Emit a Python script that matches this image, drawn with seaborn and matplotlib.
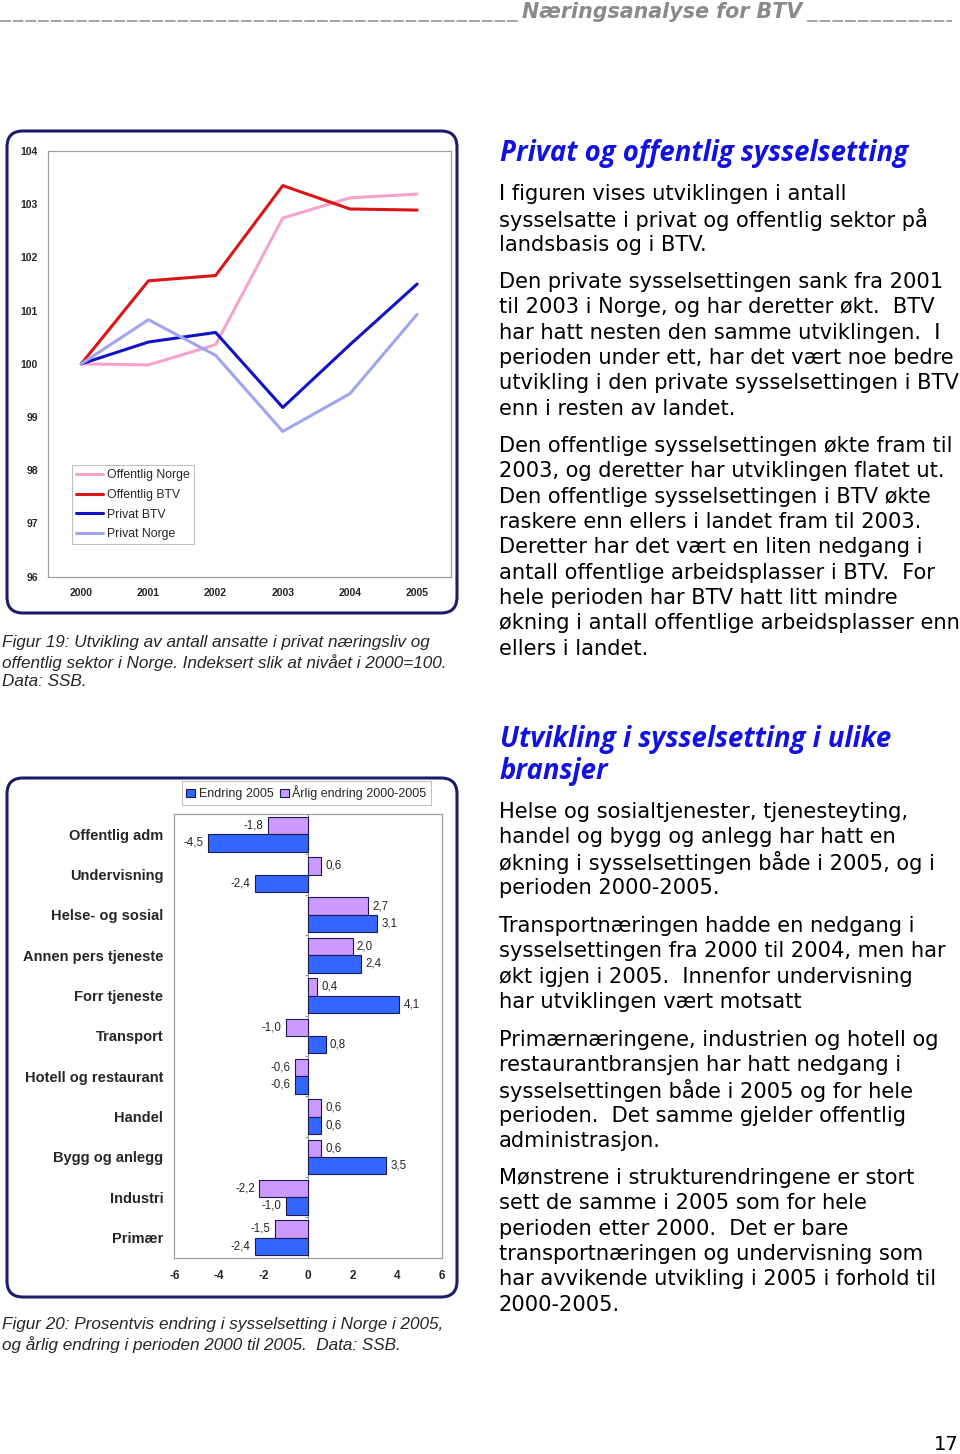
import numpy as np
import pandas as pd
import matplotlib
matplotlib.use("Agg")
import matplotlib.pyplot as plt
import seaborn as sns
from matplotlib.patches import FancyBboxPatch, Patch
from matplotlib.lines import Line2D

# ---------------- data ----------------
years = [2000, 2001, 2002, 2003, 2004, 2005]
line_series = ["Offentlig Norge", "Offentlig BTV", "Privat BTV", "Privat Norge"]
offentlig_norge = [100.0, 99.98, 100.36, 102.74, 103.12, 103.19]
offentlig_btv = [100.0, 101.56, 101.66, 103.35, 102.91, 102.89]
privat_btv = [100.0, 100.41, 100.59, 99.18, 100.36, 101.50]
privat_norge = [100.0, 100.83, 100.16, 98.73, 99.44, 100.93]
line_yticks = [96, 97, 98, 99, 100, 101, 102, 103, 104]

sectors = ["Offentlig adm", "Undervisning", "Helse- og sosial", "Annen pers tjeneste",
           "Forr tjeneste", "Transport", "Hotell og restaurant", "Handel",
           "Bygg og anlegg", "Industri", "Primær"]
bar_series = ["Endring 2005", "Årlig endring 2000-2005"]
endring_2005 = [-4.5, -2.4, 3.1, 2.4, 4.1, 0.8, -0.6, 0.6, 3.5, -1.0, -2.4]
arlig_endring = [-1.8, 0.6, 2.7, 2.0, 0.4, -1.0, -0.6, 0.6, 0.6, -2.2, -1.5]
bar_xticks = [-6, -4, -2, 0, 2, 4, 6]

header_title = "Næringsanalyse for BTV"
page_number = "17"
caption19 = ["Figur 19: Utvikling av antall ansatte i privat næringsliv og",
             "offentlig sektor i Norge. Indeksert slik at nivået i 2000=100.",
             "Data: SSB."]
caption20 = ["Figur 20: Prosentvis endring i sysselsetting i Norge i 2005,",
             "og årlig endring i perioden 2000 til 2005.  Data: SSB."]
heading1 = ["Privat og offentlig sysselsetting"]
heading2 = ["Utvikling i sysselsetting i ulike", "bransjer"]
para1 = ["I figuren vises utviklingen i antall",
         "sysselsatte i privat og offentlig sektor på",
         "landsbasis og i BTV."]
para2 = ["Den private sysselsettingen sank fra 2001",
         "til 2003 i Norge, og har deretter økt.  BTV",
         "har hatt nesten den samme utviklingen.  I",
         "perioden under ett, har det vært noe bedre",
         "utvikling i den private sysselsettingen i BTV",
         "enn i resten av landet."]
para3 = ["Den offentlige sysselsettingen økte fram til",
         "2003, og deretter har utviklingen flatet ut.",
         "Den offentlige sysselsettingen i BTV økte",
         "raskere enn ellers i landet fram til 2003.",
         "Deretter har det vært en liten nedgang i",
         "antall offentlige arbeidsplasser i BTV.  For",
         "hele perioden har BTV hatt litt mindre",
         "økning i antall offentlige arbeidsplasser enn",
         "ellers i landet."]
para4 = ["Helse og sosialtjenester, tjenesteyting,",
         "handel og bygg og anlegg har hatt en",
         "økning i sysselsettingen både i 2005, og i",
         "perioden 2000-2005."]
para5 = ["Transportnæringen hadde en nedgang i",
         "sysselsettingen fra 2000 til 2004, men har",
         "økt igjen i 2005.  Innenfor undervisning",
         "har utviklingen vært motsatt"]
para6 = ["Primærnæringene, industrien og hotell og",
         "restaurantbransjen har hatt nedgang i",
         "sysselsettingen både i 2005 og for hele",
         "perioden.  Det samme gjelder offentlig",
         "administrasjon."]
para7 = ["Mønstrene i strukturendringene er stort",
         "sett de samme i 2005 som for hele",
         "perioden etter 2000.  Det er bare",
         "transportnæringen og undervisning som",
         "har avvikende utvikling i 2005 i forhold til",
         "2000-2005."]

# ---------------- styling ----------------
sns.set_style("white")
plt.rcParams["font.family"] = ["Liberation Sans", "DejaVu Sans"]

W, H = 960, 1454
fig = plt.figure(figsize=(W / 100, H / 100), dpi=100)

def px_axes(x0, y0, x1, y1):
    return fig.add_axes([x0 / W, 1 - y1 / H, (x1 - x0) / W, (y1 - y0) / H])

# overlay for page layout (pixel coordinates)
bg = fig.add_axes([0, 0, 1, 1])
bg.set_xlim(0, W)
bg.set_ylim(H, 0)
bg.axis("off")

GRAY = "#8a8a8a"
NAVY = "#1c1c6a"
HBLUE = "#1212e0"

# header
bg.plot([0, 519], [21, 21], color=GRAY, lw=1.1, linestyle=(0, (7, 1.3)))
bg.plot([807, 952], [21, 21], color=GRAY, lw=1.1, linestyle=(0, (7, 1.3)))
bg.text(522, 12, header_title, fontsize=14.9, fontweight="bold", fontstyle="italic",
        family="DejaVu Sans", color=GRAY, va="center", ha="left")
bg.text(959, 1444, page_number, fontsize=14, family="DejaVu Sans", color="black",
        va="center", ha="right")

# chart frames
for (x0, y0, x1, y1) in [(7, 131, 457, 613), (7, 778, 457, 1297)]:
    bg.add_patch(FancyBboxPatch((x0, y0), x1 - x0, y1 - y0,
                                boxstyle="round,pad=0,rounding_size=16",
                                facecolor="none", edgecolor=NAVY, lw=2.2))

# captions
for i, s in enumerate(caption19):
    bg.text(2, 643 + i * 19.5, s, fontsize=12.3, fontstyle="italic", va="center", ha="left")
for i, s in enumerate(caption20):
    bg.text(2, 1325 + i * 19.5, s, fontsize=12.3, fontstyle="italic", va="center", ha="left")

# right column text
def heading(lines, y0):
    for i, s in enumerate(lines):
        bg.text(500, y0 + i * 32, s, fontsize=19.8, fontweight="bold", fontstyle="italic",
                family=["Open Sans", "DejaVu Sans"], color=HBLUE, va="center", ha="left")

def para(lines, y0):
    for i, s in enumerate(lines):
        bg.text(499, y0 + i * 25.35, s, fontsize=15.1, family="DejaVu Sans",
                color="black", va="center", ha="left")

heading(heading1, 153)
para(para1, 194)
para(para2, 282)
para(para3, 446)
heading(heading2, 739)
para(para4, 812)
para(para5, 926)
para(para6, 1040)
para(para7, 1178)

# ---------------- line chart ----------------
line_colors = {"Offentlig Norge": "#F5A3CC", "Offentlig BTV": "#D91515",
               "Privat BTV": "#1212C8", "Privat Norge": "#9FA6EE"}
df_line = pd.DataFrame({
    "Year": years * 4,
    "Index": offentlig_norge + offentlig_btv + privat_btv + privat_norge,
    "Serie": [s for s in line_series for _ in years],
})
ax1 = px_axes(47.7, 151, 450.7, 576.7)
sns.lineplot(data=df_line, x="Year", y="Index", hue="Serie", hue_order=line_series,
             palette=line_colors, linewidth=2.2, estimator=None, sort=False,
             legend=False, ax=ax1)
ax1.set_xlim(years[0] - 0.5, years[-1] + 0.5)
ax1.set_ylim(line_yticks[0], line_yticks[-1])
ax1.set_xticks(years)
ax1.set_xticklabels([str(y) for y in years], fontsize=7.5, fontweight="bold")
ax1.set_xticks(np.arange(years[0] - 0.5, years[-1] + 1, 1), minor=True)
ax1.set_yticks(line_yticks)
ax1.set_yticklabels([str(v) for v in line_yticks], fontsize=7.5, fontweight="bold")
ax1.tick_params(axis="x", which="major", length=0, pad=8)
ax1.tick_params(axis="x", which="minor", length=4, color="#909090", width=0.8)
ax1.tick_params(axis="y", which="major", length=3, color="#909090", width=0.8, pad=4)
ax1.set_xlabel("")
ax1.set_ylabel("")
for sp in ax1.spines.values():
    sp.set_color("#a0a0a0")
    sp.set_linewidth(0.9)
handles = [Line2D([0], [0], color=line_colors[s], lw=2.2) for s in line_series]
leg = ax1.legend(handles, line_series, loc="upper left", bbox_to_anchor=(0.060, 0.262),
                 frameon=True, fancybox=False, edgecolor="#b0b0b0", fontsize=8.8,
                 handlelength=2.2, handletextpad=0.3, borderaxespad=0, borderpad=0.35,
                 labelspacing=0.62)
leg.get_frame().set_linewidth(0.8)

# ---------------- bar chart ----------------
bar_colors = {bar_series[0]: "#3366FF", bar_series[1]: "#CC99FF"}
df_bar = pd.DataFrame({
    "Sektor": sectors * 2,
    "Endring": arlig_endring + endring_2005,
    "Serie": [bar_series[1]] * len(sectors) + [bar_series[0]] * len(sectors),
})
ax2 = px_axes(174.3, 814, 441.7, 1257.7)
sns.barplot(data=df_bar, y="Sektor", x="Endring", hue="Serie", order=sectors,
            hue_order=[bar_series[1], bar_series[0]], palette=bar_colors, orient="h",
            width=0.86, gap=0, saturation=1, edgecolor="#1a1a50", linewidth=0.8,
            errorbar=None, legend=False, ax=ax2)
for cont in ax2.containers:
    ax2.bar_label(cont, labels=[f"{v:.1f}".replace(".", ",") for v in cont.datavalues],
                  padding=3, fontsize=8.3)
ax2.set_xlim(bar_xticks[0], bar_xticks[-1])
ax2.set_ylim(len(sectors) - 0.5, -0.5)
ax2.set_xticks(bar_xticks)
ax2.set_xticklabels([str(v) for v in bar_xticks], fontsize=8.5, fontweight="bold")
ax2.set_yticks(range(len(sectors)))
ax2.set_yticklabels(sectors, fontsize=10.5, fontweight="bold")
ax2.tick_params(axis="x", length=4, color="#909090", width=0.8, pad=5)
ax2.tick_params(axis="y", length=0, pad=8)
ax2.set_xlabel("")
ax2.set_ylabel("")
ax2.axvline(0, color="#909090", lw=0.8, zorder=0.5)
ax2.hlines(np.arange(len(sectors) + 1) - 0.5, -0.12, 0, color="#909090", lw=0.8, zorder=0.5)
for sp in ax2.spines.values():
    sp.set_color("#a0a0a0")
    sp.set_linewidth(0.9)
bh = [Patch(facecolor=bar_colors[s], edgecolor="#1a1a50", lw=0.8) for s in bar_series]
leg2 = ax2.legend(bh, bar_series, ncol=2, loc="upper left", bbox_to_anchor=(0.029, 1.074),
                  frameon=True, fancybox=False, edgecolor="#b0b0b0", fontsize=9,
                  handlelength=0.7, handleheight=0.7, handletextpad=0.3, columnspacing=0.5,
                  borderaxespad=0, borderpad=0.35)
leg2.get_frame().set_linewidth(0.8)

fig.savefig("out.png", dpi=100)
